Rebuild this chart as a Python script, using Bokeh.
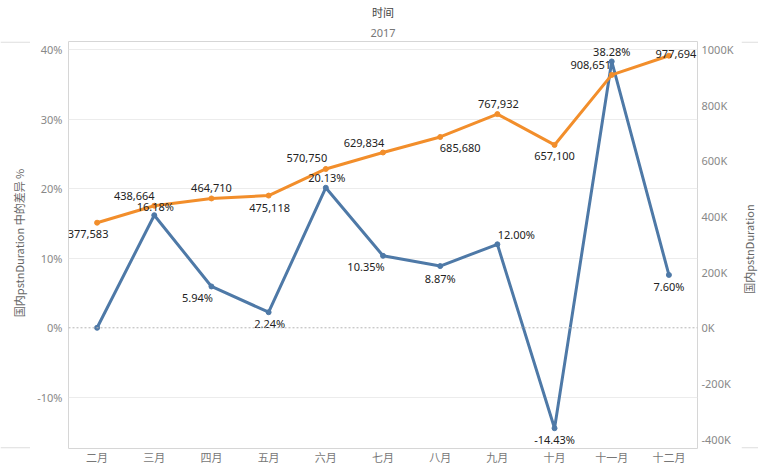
import math
from bokeh.plotting import figure
from bokeh.layouts import row
from bokeh.models import (Range1d, LinearAxis, FixedTicker, CustomJSTickFormatter,
                          Span, Title, ColumnDataSource, FactorRange)
from bokeh.core.properties import value
from bokeh.embed import file_html
from bokeh.resources import INLINE

# ---- data ----
months = ["二月", "三月", "四月", "五月", "六月", "七月", "八月", "九月", "十月", "十一月", "十二月"]
duration = [377583, 438664, 464710, 475118, 570750, 629834, 685680, 767932, 657100, 908651, 977694]
diff_pct = [0.0, 16.18, 5.94, 2.24, 20.13, 10.35, 8.87, 12.00, -14.43, 38.28, 7.60]
left_ticks = [-10, 0, 10, 20, 30, 40]
right_ticks = [-400000, -200000, 0, 200000, 400000, 600000, 800000, 1000000]
left_title = "国内pstnDuration 中的差异 %"
right_title = "国内pstnDuration"
header_top = "时间"
header_sub = "2017"

# ---- label placement (style, screen pixels) ----
dur_dx = [-9, -20, 0, 1, -19, -19, 20, 1, 0, -21, 7]
dur_dy = [11, -10, -10, 12, -11, -10, 11, -10, 11, -10, -2]
pct_dx = [0, 1, -14, 1, 1, -17, 0, 19, 0, 0, 0]
pct_dy = [0, -9, 11, 11, -10, 11, 12, -10, 11, -10, 12]

dur_labels = [f"{v:,}" for v in duration]
pct_labels = [""] + [f"{v:.2f}%" for v in diff_pct[1:]]

src = ColumnDataSource(dict(m=months, dur=duration, pct=diff_pct,
                            dl=dur_labels, pl=pct_labels,
                            ddx=dur_dx, ddy=dur_dy, pdx=pct_dx, pdy=pct_dy))

BLUE = "#4e79a7"
ORANGE = "#f28e2b"
CJK = "Noto Sans CJK SC"
LAT = "Noto Sans"
RULE = "#d6d6d6"

H = 467
LW, RW = 30, 17            # side strips holding the axis titles
W = 758 - LW - RW
ML, MR, MT, MB = 68 - LW, 44, 41, 18


def strip(width):
    # side strip; its frame lines up with the main frame in the row layout
    s = figure(width=width, height=H, output_backend="svg", toolbar_location=None,
               x_range=Range1d(0, width), y_range=Range1d(0, 1),
               min_border=0, min_border_left=0, min_border_right=0,
               min_border_top=0, min_border_bottom=0)
    s.axis.visible = False
    s.grid.visible = False
    s.outline_line_color = None
    s.background_fill_color = "white"
    s.border_fill_color = "white"
    for loc in (0.0015, 0.9985):
        s.add_layout(Span(location=loc, dimension="width", line_color=RULE, line_width=1))
    return s


# left strip with left axis title
pl_ = strip(LW)
pl_.text(x=[18], y=[0.505], text=[left_title], angle=math.pi / 2,
         text_align="center", text_baseline="middle", text_font=value(CJK),
         text_font_size="11px", text_color="#666666")

# right strip with right axis title
pr_ = strip(RW)
pr_.text(x=[7], y=[0.49], text=[right_title], angle=math.pi / 2,
         text_align="center", text_baseline="middle", text_font=value(CJK),
         text_font_size="11px", text_color="#666666")

p = figure(x_range=FactorRange(*months, range_padding=0),
           y_range=Range1d(-17.35, 41.15),
           width=W, height=H, output_backend="svg", toolbar_location=None,
           min_border_left=ML, min_border_right=MR, min_border_top=MT, min_border_bottom=MB)
p.extra_y_ranges = {"dur": Range1d(-433750, 1028750)}

p.outline_line_color = RULE
p.background_fill_color = "white"
p.border_fill_color = "white"

# header titles
p.title.text = header_top
p.title.align = "center"
p.title.text_font = CJK
p.title.text_font_size = "11px"
p.title.text_font_style = "normal"
p.title.text_color = "#444444"
p.title.standoff = 3
p.add_layout(Title(text=header_sub, align="center", text_font=LAT, text_font_size="11px",
                   text_font_style="normal", text_color="#777777", standoff=10), "above")

# grid
p.xgrid.grid_line_color = None
p.ygrid.ticker = FixedTicker(ticks=[t for t in left_ticks if t != 0])
p.ygrid.grid_line_color = "#ececec"
p.add_layout(Span(location=0, dimension="width", line_color="#b5b5b5",
                  line_dash="2 2", line_width=1))

# left axis
ya = p.yaxis[0]
ya.ticker = FixedTicker(ticks=left_ticks)
ya.formatter = CustomJSTickFormatter(code="return tick + '%';")
ya.major_label_text_font = LAT
ya.major_label_text_font_size = "11px"
ya.major_label_text_color = "#888888"
ya.major_label_standoff = 6
ya.major_tick_out = 0
ya.major_tick_in = 0
ya.minor_tick_out = 0
ya.minor_tick_in = 0
ya.axis_line_color = None

# right axis
ra = LinearAxis(y_range_name="dur", ticker=FixedTicker(ticks=right_ticks),
                formatter=CustomJSTickFormatter(code="return (tick/1000).toFixed(0) + 'K';"))
ra.major_label_text_font = LAT
ra.major_label_text_font_size = "11px"
ra.major_label_text_color = "#888888"
ra.major_label_standoff = 4
ra.major_tick_out = 0
ra.major_tick_in = 0
ra.minor_tick_out = 0
ra.minor_tick_in = 0
ra.axis_line_color = None
p.add_layout(ra, "right")

# x axis
xa = p.xaxis[0]
xa.major_label_text_font = CJK
xa.major_label_text_font_size = "11px"
xa.major_label_text_color = "#777777"
xa.major_label_standoff = 0
xa.major_tick_out = 0
xa.major_tick_in = 0
xa.minor_tick_out = 0
xa.minor_tick_in = 0
xa.axis_line_color = None

# series
p.line("m", "pct", source=src, color=BLUE, line_width=3, line_join="round")
p.scatter("m", "pct", source=src, color=BLUE, size=5)
p.line("m", "dur", source=src, y_range_name="dur", color=ORANGE, line_width=3, line_join="round")
p.scatter("m", "dur", source=src, y_range_name="dur", color=ORANGE, size=5)

p.text("m", "pct", text="pl", source=src, x_offset="pdx", y_offset="pdy",
       text_align="center", text_baseline="middle", text_font=value(LAT),
       text_font_size="11px", text_color="#222222")
p.text("m", "dur", text="dl", source=src, y_range_name="dur", x_offset="ddx", y_offset="ddy",
       text_align="center", text_baseline="middle", text_font=value(LAT),
       text_font_size="11px", text_color="#222222")

layout = row(pl_, p, pr_, spacing=0)
open("out.html", "w").write(file_html(layout, INLINE))
